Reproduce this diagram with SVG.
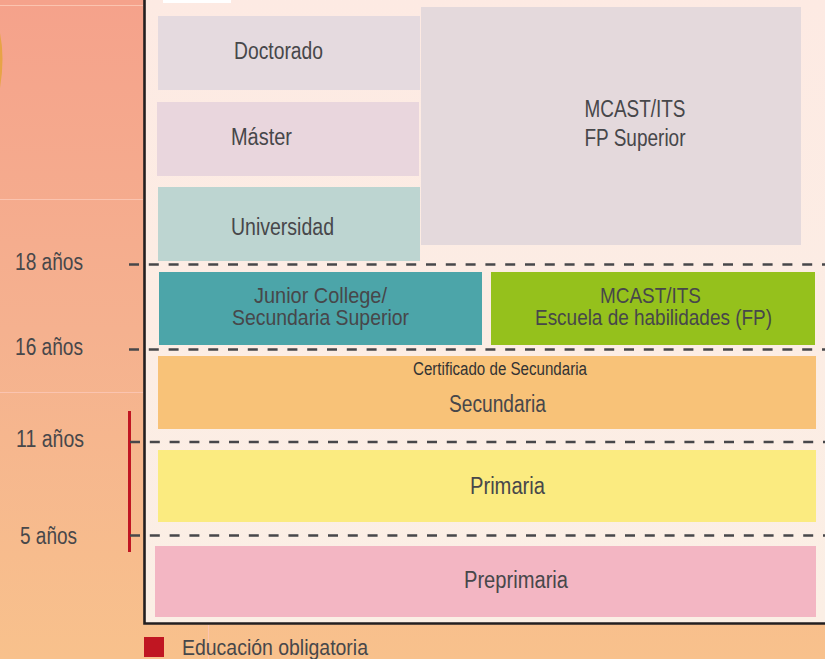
<svg xmlns="http://www.w3.org/2000/svg" width="825" height="659" viewBox="0 0 825 659">
<style>
text{font-family:"Liberation Sans Narrow","Liberation Sans",Arial,sans-serif;font-size:23.500px;fill:#47474a}
.s{font-size:21.500px}
.d{stroke:#47474a;stroke-width:2.300;stroke-dasharray:10 9.800;fill:none}
.h{stroke:#fbc4b0;stroke-width:1;fill:none}
</style>
<defs>
<linearGradient id="bg" x1="0" y1="0" x2="0" y2="1"><stop offset="0" stop-color="#f5a28b"/><stop offset=".5" stop-color="#f5b18f"/><stop offset="1" stop-color="#f8c18c"/></linearGradient>
<linearGradient id="pn" x1="0" y1="0" x2="0" y2="1"><stop offset="0" stop-color="#fdeae3"/><stop offset="1" stop-color="#fbefe5"/></linearGradient>
</defs>
<rect id="background" width="825" height="659" fill="url(#bg)"/>
<path class="h" d="M0 5.500H143M0 199.500H143M0 392.500H143M208.500 625V659"/>
<path id="ornament" d="M0 33Q5 58 0 88Z" fill="#e4a33a" opacity=".85"/>
<path id="panel" d="M144.500 -3V623.500H828V-3Z" fill="url(#pn)" stroke="#231f20" stroke-width="2.600"/>
<rect x="163" y="0" width="68" height="3" fill="#fff"/>
<g id="mcast-superior"><rect x="421" y="7" width="380" height="238" fill="#e4d9dc"/><text x="635" y="117" text-anchor="middle" textLength="101" lengthAdjust="spacingAndGlyphs">MCAST/ITS</text><text x="635" y="146" text-anchor="middle" textLength="101" lengthAdjust="spacingAndGlyphs">FP Superior</text></g>
<g id="doctorado"><rect x="158" y="16" width="262" height="74" fill="#e5dadf"/><text x="278.500" y="59" text-anchor="middle" textLength="89" lengthAdjust="spacingAndGlyphs">Doctorado</text></g>
<g id="master"><rect x="157" y="102" width="262" height="74" fill="#e9d6dd"/><text x="261.500" y="145" text-anchor="middle" textLength="61" lengthAdjust="spacingAndGlyphs">Máster</text></g>
<g id="universidad"><rect x="158" y="187" width="262" height="74" fill="#bdd5d1"/><text x="282.500" y="235" text-anchor="middle" textLength="103" lengthAdjust="spacingAndGlyphs">Universidad</text></g>
<g id="junior-college"><rect x="159" y="272" width="323" height="73" fill="#4ca5a9"/><text class="s" x="320.500" y="303" text-anchor="middle" textLength="133" lengthAdjust="spacingAndGlyphs">Junior College/</text><text class="s" x="320.500" y="325" text-anchor="middle" textLength="177" lengthAdjust="spacingAndGlyphs">Secundaria Superior</text></g>
<g id="mcast-fp"><rect x="491" y="272" width="324" height="73" fill="#95c11c"/><text class="s" x="650.500" y="303" text-anchor="middle" textLength="101" lengthAdjust="spacingAndGlyphs">MCAST/ITS</text><text class="s" x="653.500" y="325" text-anchor="middle" textLength="237" lengthAdjust="spacingAndGlyphs">Escuela de habilidades (FP)</text></g>
<g id="secundaria"><rect x="158" y="356" width="658" height="73" fill="#f8c278"/><text x="500" y="375" text-anchor="middle" textLength="174" lengthAdjust="spacingAndGlyphs" style="font-size:18px;fill:#333">Certificado de Secundaria</text><text x="497.500" y="412" text-anchor="middle" textLength="97" lengthAdjust="spacingAndGlyphs">Secundaria</text></g>
<g id="primaria"><rect x="158" y="450" width="658" height="72" fill="#fbeb80"/><text x="507.500" y="494" text-anchor="middle" textLength="75" lengthAdjust="spacingAndGlyphs">Primaria</text></g>
<g id="preprimaria"><rect x="155" y="546" width="661" height="71" fill="#f3b6c3"/><text x="516" y="588" text-anchor="middle" textLength="104" lengthAdjust="spacingAndGlyphs">Preprimaria</text></g>
<g id="ages">
<text x="49" y="270" text-anchor="middle" textLength="68" lengthAdjust="spacingAndGlyphs">18 años</text>
<text x="49" y="355" text-anchor="middle" textLength="68" lengthAdjust="spacingAndGlyphs">16 años</text>
<text x="50" y="447" text-anchor="middle" textLength="68" lengthAdjust="spacingAndGlyphs">11 años</text>
<text x="48.500" y="544" text-anchor="middle" textLength="57" lengthAdjust="spacingAndGlyphs">5 años</text>
</g>
<rect id="compulsory-bar" x="128" y="411" width="3" height="141" fill="#c01622"/>
<g id="connectors">
<path class="d" d="M129 264.500H825"/>
<path class="d" d="M129 349.500H825"/>
<path class="d" d="M130 442H825"/>
<path class="d" d="M130 535.500H825"/>
</g>
<g id="legend"><rect x="144" y="637" width="20" height="20" fill="#c01622"/><text x="182" y="655" textLength="186" lengthAdjust="spacingAndGlyphs" style="font-size:22px">Educación obligatoria</text></g>
</svg>
